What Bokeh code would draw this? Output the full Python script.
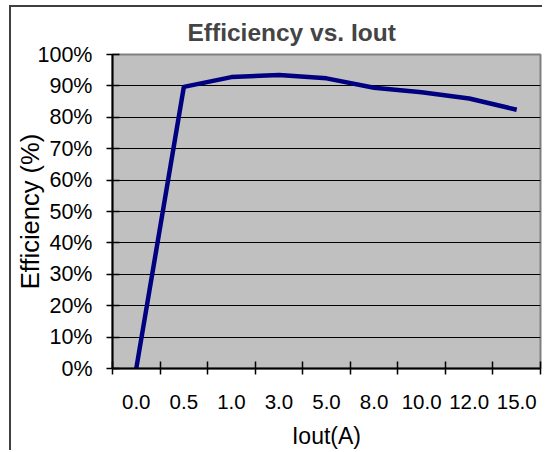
from bokeh.plotting import figure
from bokeh.models import (FactorRange, Range1d, LinearAxis, CategoricalAxis,
                          FixedTicker, PrintfTickFormatter, Grid)
from bokeh.embed import file_html
from bokeh.resources import INLINE

# ---- data ----
currents = ["0.0", "0.5", "1.0", "3.0", "5.0", "8.0", "10.0", "12.0", "15.0"]
efficiency = [0.0, 89.7, 92.8, 93.5, 92.4, 89.4, 88.0, 86.0, 82.4]
y_ticks = [0, 10, 20, 30, 40, 50, 60, 70, 80, 90, 100]
title_text = "Efficiency vs. Iout"
x_label = "Iout(A)"
y_label = "Efficiency (%)"

FONT = "Liberation Sans"

p = figure(width=533, height=445,
           x_range=FactorRange(factors=currents, range_padding=0),
           y_range=Range1d(0, 100),
           x_axis_location=None, y_axis_location=None,
           output_backend="svg", toolbar_location=None,
           min_border_left=101, min_border_right=4,
           min_border_top=46, min_border_bottom=84,
           background_fill_color="#C0C0C0", border_fill_color="white",
           outline_line_color="#808080", outline_line_width=2)
p.styles = {"margin-top": "5px", "margin-left": "9px",
            "border-left": "2px solid #404040", "border-top": "2px solid #404040"}

# title
p.title.text = title_text
p.title.text_font = FONT
p.title.text_font_size = "24.5px"
p.title.text_font_style = "bold"
p.title.align = "left"
p.title.offset = 75
p.title.standoff = 18

# grid
p.xgrid.visible = False
p.ygrid.visible = False
grid = Grid(dimension=1, ticker=FixedTicker(ticks=y_ticks),
            grid_line_color="black", grid_line_width=1)
p.add_layout(grid)

# y axis
yaxis = LinearAxis(ticker=FixedTicker(ticks=y_ticks),
                   formatter=PrintfTickFormatter(format="%d%%"),
                   major_label_text_font=FONT, major_label_text_font_size="21.5px",
                   major_label_text_color="black",
                   major_tick_in=7, major_tick_out=6,
                   major_tick_line_color="black", major_tick_line_width=1.5,
                   minor_tick_line_color=None,
                   axis_line_color="black", axis_line_width=2,
                   major_label_standoff=14,
                   axis_label=y_label, axis_label_text_font=FONT,
                   axis_label_text_font_size="25.5px",
                   axis_label_text_font_style="normal",
                   axis_label_text_color="black",
                   axis_label_standoff=-9)
p.add_layout(yaxis, "left")

# x tick marks at category boundaries (synthetic coordinates of the factor range),
# drawn as minor ticks so that this axis carries no labels
xticks_axis = LinearAxis(ticker=FixedTicker(ticks=[], minor_ticks=list(range(len(currents) + 1))),
                         major_tick_in=0, major_tick_out=6, major_label_standoff=0,
                         minor_tick_in=7, minor_tick_out=6,
                         minor_tick_line_color="black", minor_tick_line_width=1.5,
                         axis_line_color="black", axis_line_width=2)
p.add_layout(xticks_axis, "below")

# x category labels
xaxis = CategoricalAxis(axis_line_color=None, major_tick_line_color=None,
                        major_tick_in=0, major_tick_out=0,
                        major_label_text_font=FONT, major_label_text_font_size="20.5px",
                        major_label_text_color="black",
                        major_label_standoff=20,
                        axis_label=x_label, axis_label_text_font=FONT,
                        axis_label_text_font_size="23px",
                        axis_label_text_font_style="normal",
                        axis_label_text_color="black",
                        axis_label_standoff=11)
p.add_layout(xaxis, "below")

p.line(x=currents, y=efficiency, line_color="#000080", line_width=4.5)

open("out.html", "w").write(file_html(p, INLINE))
